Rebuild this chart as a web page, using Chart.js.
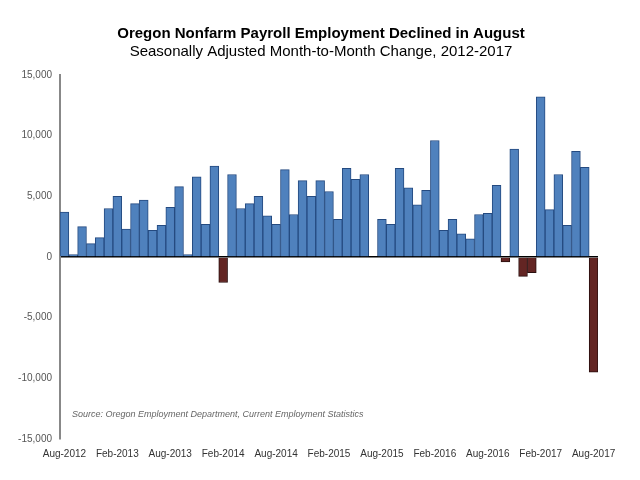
<!DOCTYPE html>
<html>
<head>
<meta charset="utf-8">
<script src="https://cdn.jsdelivr.net/npm/chart.js@4"></script>
<style>
html,body{margin:0;padding:0;background:#fff;}
#wrap{width:640px;height:480px;}
</style>
</head>
<body>
<div id="wrap"><canvas id="c" width="640" height="480"></canvas></div>
<script>
const months = [
 "Aug-2012","Sep-2012","Oct-2012","Nov-2012","Dec-2012",
 "Jan-2013","Feb-2013","Mar-2013","Apr-2013","May-2013","Jun-2013","Jul-2013","Aug-2013","Sep-2013","Oct-2013","Nov-2013","Dec-2013",
 "Jan-2014","Feb-2014","Mar-2014","Apr-2014","May-2014","Jun-2014","Jul-2014","Aug-2014","Sep-2014","Oct-2014","Nov-2014","Dec-2014",
 "Jan-2015","Feb-2015","Mar-2015","Apr-2015","May-2015","Jun-2015","Jul-2015","Aug-2015","Sep-2015","Oct-2015","Nov-2015","Dec-2015",
 "Jan-2016","Feb-2016","Mar-2016","Apr-2016","May-2016","Jun-2016","Jul-2016","Aug-2016","Sep-2016","Oct-2016","Nov-2016","Dec-2016",
 "Jan-2017","Feb-2017","Mar-2017","Apr-2017","May-2017","Jun-2017","Jul-2017","Aug-2017"
];
const changes = [
 3700, 200, 2500, 1100, 1600,
 4000, 5000, 2300, 4400, 4700, 2200, 2600, 4100, 5800, 200, 6600, 2700,
 7500, -2100, 6800, 4000, 4400, 5000, 3400, 2700, 7200, 3500, 6300, 5000,
 6300, 5400, 3100, 7300, 6400, 6800, 0, 3100, 2700, 7300, 5700, 4300,
 5500, 9600, 2200, 3100, 1900, 1500, 3500, 3600, 5900, -400, 8900, -1600,
 -1300, 13200, 3900, 6800, 2600, 8700, 7400, -9500
];
const yTicks = [-15000, -10000, -5000, 0, 5000, 10000, 15000];
const titleText = "Oregon Nonfarm Payroll Employment Declined in August";
const subtitleText = "Seasonally Adjusted Month-to-Month Change, 2012-2017";
const sourceText = "Source: Oregon Employment Department, Current Employment Statistics";

const FONT = "'Liberation Sans', Arial, sans-serif";

const notesPlugin = {
  id: 'notes',
  afterDraw(chart) {
    const ctx = chart.ctx;
    const y = chart.scales.y;
    const cx = chart.width / 2 + 1;
    ctx.save();
    ctx.fillStyle = "#000";
    ctx.textAlign = "center";
    ctx.textBaseline = "middle";
    ctx.font = "bold 15px " + FONT;
    ctx.fillText(titleText, cx, 34);
    ctx.font = "15px " + FONT;
    ctx.fillText(subtitleText, cx, 52);
    ctx.font = "italic 9px " + FONT;
    ctx.fillStyle = "#666";
    ctx.textAlign = "left";
    ctx.fillText(sourceText, chart.chartArea.left + 12, y.getPixelForValue(-13000));
    ctx.restore();
  }
};

new Chart(document.getElementById('c'), {
  type: 'bar',
  data: {
    labels: months,
    datasets: [{
      data: changes,
      backgroundColor: ctx => ctx.raw < 0 ? '#632523' : '#4F81BD',
      borderColor: ctx => ctx.raw < 0 ? '#2a0f0f' : '#244A80',
      borderWidth: 1,
      borderSkipped: 'start',
      barPercentage: 1.0,
      categoryPercentage: 1.0
    }]
  },
  options: {
    responsive: false,
    animation: false,
    devicePixelRatio: 1,
    layout: { padding: { left: 0, right: 42, top: 75, bottom: 19 } },
    plugins: {
      legend: { display: false },
      tooltip: { enabled: false },
      title: { display: false },
      subtitle: { display: false }
    },
    scales: {
      x: {
        grid: { display: false },
        border: { display: false },
        ticks: {
          autoSkip: false,
          maxRotation: 0,
          minRotation: 0,
          color: '#333',
          font: { family: FONT, size: 10 },
          padding: 1,
          callback: function(v, i) { return i % 6 === 0 ? months[i] : ''; }
        }
      },
      y: {
        min: -15000,
        max: 15000,
        afterBuildTicks: s => { s.ticks = yTicks.map(v => ({ value: v })); },
        afterFit: s => { s.width = 60; },
        grid: {
          drawTicks: false,
          color: c => c.tick && c.tick.value === 0 ? '#000' : 'rgba(0,0,0,0)',
          lineWidth: 1.5
        },
        border: { display: true, color: '#888', width: 2 },
        ticks: {
          color: '#555',
          font: { family: FONT, size: 10 },
          padding: 8,
          callback: v => v.toLocaleString('en-US')
        }
      }
    }
  },
  plugins: [notesPlugin]
});
</script>
</body>
</html>
